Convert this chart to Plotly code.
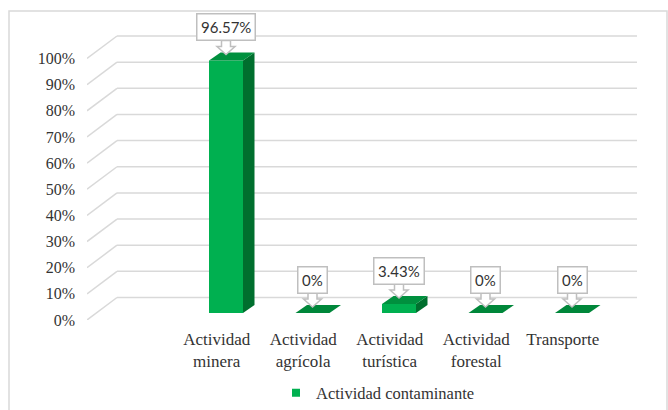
import plotly.graph_objects as go

# ---------------- data ----------------
categories = ["Actividad minera", "Actividad agrícola", "Actividad turística",
              "Actividad forestal", "Transporte"]
tick_labels = ["Actividad<br>minera", "Actividad<br>agrícola", "Actividad<br>turística",
               "Actividad<br>forestal", "Transporte"]
values = [96.57, 0, 3.43, 0, 0]
value_labels = ["96.57%", "0%", "3.43%", "0%", "0%"]
y_ticks = [0, 10, 20, 30, 40, 50, 60, 70, 80, 90, 100]
series_name = "Actividad contaminante"

# ---------------- geometry (pixels) ----------------
W, H = 668, 410
L, R, T, B = 87, 637, 35, 320          # plot area
PX_CAT = 86.5                          # px per category
X0 = 216.7                             # px of category 0 (front plane)
PX_PCT = 2.615                         # px per percent


def ux(px):
    return px / PX_CAT


def uy(px):
    return px / PX_PCT


x_range = [(L - X0) / PX_CAT, (R - X0) / PX_CAT]
y_range = [0, (B - T) / PX_PCT]

WALL_DX, WALL_DY = ux(30), uy(22.5)
BAR_OFF_X, BAR_OFF_Y = ux(9.3), uy(7)
BAR_W = ux(34)
DEP_X, DEP_Y = ux(11.5), uy(8)

FRONT = "#00B050"
TOP = "#00903E"
SIDE = "#006F2E"
GRID = "#D9D9D9"
TXT = "#333333"
SERIF = "Liberation Serif, Times New Roman, serif"

fig = go.Figure()

# gridlines: diagonal on the left side + back wall lines
shapes = []
x_front_left = x_range[0]
x_back_left = x_range[0] + WALL_DX
x_back_right = x_range[1]
for t in y_ticks:
    shapes.append(dict(type="line", xref="x", yref="y", layer="below",
                       x0=x_front_left, y0=t, x1=x_back_left, y1=t + WALL_DY,
                       line=dict(color=GRID, width=1.5)))
    shapes.append(dict(type="line", xref="x", yref="y", layer="below",
                       x0=x_back_left, y0=t + WALL_DY, x1=x_back_right, y1=t + WALL_DY,
                       line=dict(color=GRID, width=1.5)))

# front faces
xs = [i + BAR_OFF_X for i in range(len(categories))]
fig.add_trace(go.Bar(x=xs, y=values, base=[BAR_OFF_Y] * len(values), width=BAR_W,
                     marker=dict(color=FRONT, line=dict(width=0)),
                     name=series_name, showlegend=False, hoverinfo="skip"))

# side and top faces
for i, v in enumerate(values):
    xl = xs[i] - BAR_W / 2
    xr = xs[i] + BAR_W / 2
    b = BAR_OFF_Y
    top = b + v
    if v > 0:
        fig.add_trace(go.Scatter(
            x=[xr, xr + DEP_X, xr + DEP_X, xr, xr],
            y=[b, b + DEP_Y, top + DEP_Y, top, b],
            fill="toself", fillcolor=SIDE, mode="lines", line=dict(width=0),
            showlegend=False, hoverinfo="skip"))
    fig.add_trace(go.Scatter(
        x=[xl, xr, xr + DEP_X, xl + DEP_X, xl],
        y=[top, top, top + DEP_Y, top + DEP_Y, top],
        fill="toself", fillcolor=TOP if v > 0 else "#00873A", mode="lines",
        line=dict(width=0), showlegend=False, hoverinfo="skip"))

# legend entry
fig.add_trace(go.Scatter(x=[None], y=[None], mode="markers", name=series_name,
                         marker=dict(symbol="square", size=8, color=FRONT)))

# data label callouts
annotations = []
for i, v in enumerate(values):
    tip_y = BAR_OFF_Y + v + uy(6)
    # block-arrow pointer (pixel offsets from the tip)
    path = "M0,0 L-9,8 L-4.5,8 L-4.5,14 L4.5,14 L4.5,8 L9,8 Z"
    shapes.append(dict(type="path", xref="x", yref="y", layer="above",
                       xsizemode="pixel", ysizemode="pixel",
                       xanchor=xs[i], yanchor=tip_y, path=path,
                       fillcolor="white", line=dict(color="#BFBFBF", width=1.5)))
    annotations.append(dict(x=xs[i], y=tip_y, xref="x", yref="y", text=value_labels[i],
                            showarrow=False, yanchor="bottom", yshift=13,
                            bgcolor="white", bordercolor="#BFBFBF", borderwidth=1.5,
                            borderpad=3.5, font=dict(family="Lato", size=15, color=TXT)))

# outer chart border
def px2paper_x(px):
    return (px - L) / (R - L)


def px2paper_y(py):
    return (B - py) / (B - T)


shapes.append(dict(type="rect", xref="paper", yref="paper", layer="below",
                   x0=px2paper_x(9), x1=px2paper_x(667), y0=px2paper_y(415), y1=px2paper_y(11),
                   line=dict(color=GRID, width=1.5)))

fig.update_layout(
    width=W, height=H, autosize=False,
    margin=dict(l=L, r=W - R, t=T, b=H - B, pad=0),
    paper_bgcolor="white", plot_bgcolor="white",
    shapes=shapes, annotations=annotations,
    showlegend=True,
    legend=dict(orientation="h", xref="container", yref="container",
                x=276 / W, y=1 - 393 / H,
                xanchor="left", yanchor="middle",
                font=dict(family=SERIF, size=16.5, color=TXT),
                bgcolor="rgba(0,0,0,0)"),
    xaxis=dict(range=x_range, tickmode="array", tickvals=list(range(len(categories))),
               ticktext=tick_labels, showgrid=False, zeroline=False, showline=False,
               ticks="", ticklabelstandoff=7, automargin=False, fixedrange=True,
               tickfont=dict(family=SERIF, size=17, color=TXT)),
    yaxis=dict(range=y_range, tickmode="array", tickvals=y_ticks,
               ticktext=[f"{t}%" for t in y_ticks], showgrid=False, zeroline=False,
               showline=False, ticks="", ticklabelstandoff=11, automargin=False,
               fixedrange=True, tickfont=dict(family=SERIF, size=16, color=TXT)),
)

fig.write_html("out.html", config={"displayModeBar": False},
               post_script="document.body.style.margin='0';")
